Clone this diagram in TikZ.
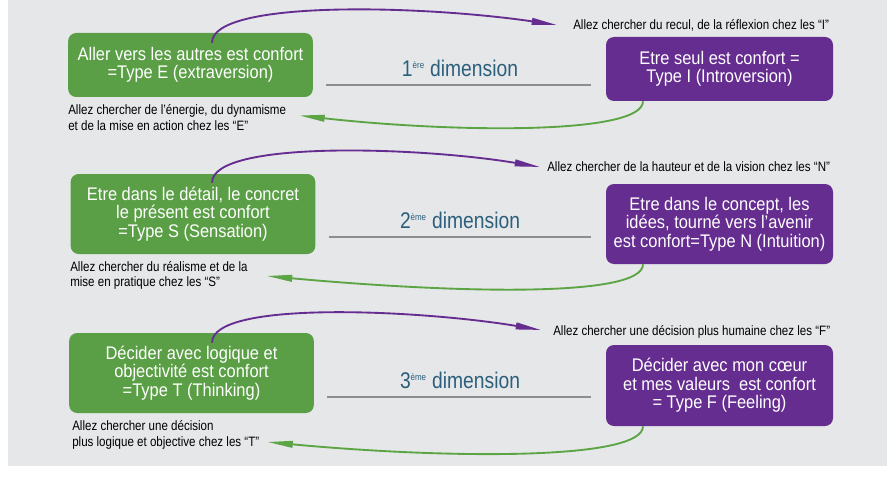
\documentclass[tikz,border=0pt]{standalone}
\usepackage{fontspec}
\usepackage{tikz}
\usetikzlibrary{arrows.meta,calc}
\newfontfamily\condfont{Liberation Sans}[FakeStretch=0.85]
\newfontfamily\boxfont{Liberation Sans}[FakeStretch=0.9]
\definecolor{cbg}{HTML}{E6E7E9}
\definecolor{cgreen}{HTML}{5A9F46}
\definecolor{cpurple}{HTML}{662D91}
\definecolor{carrg}{HTML}{5CA544}
\definecolor{cdim}{HTML}{2C5F7C}
\definecolor{cline}{HTML}{8E8E8E}
\tikzset{
  gbox/.style={rectangle, rounded corners=6pt, fill=cgreen, text=white,
               align=center, inner sep=2pt, minimum width=183.5pt,
               font=\boxfont\fontsize{13.7}{13.8}\selectfont},
  pbox/.style={gbox, fill=cpurple, minimum width=170.25pt},
  note/.style={anchor=west, inner sep=0pt, align=left, text=black,
               font=\condfont\fontsize{10.2}{11.6}\selectfont},
  dimlbl/.style={anchor=south, inner xsep=0pt, inner ysep=6pt, text=cdim,
                 font=\condfont\fontsize{17}{18}\selectfont},
  dimline/.style={draw=cline, line width=1.1pt,
                  shorten <=9.75pt, shorten >=11.25pt},
  parr/.style={-{Triangle[length=19pt,width=5pt]}, draw=cpurple, line width=1.4pt},
  garr/.style={-{Triangle[length=19pt,width=5pt]}, draw=carrg, line width=1.4pt}
}

\begin{document}
\begin{tikzpicture}[x=0.75pt, y=-0.75pt]

\fill[cbg] (8,0) rectangle (887,466);
\useasboundingbox (0,0) rectangle (887,481);

% 1ere dimension : E / I
\node[gbox, minimum height=48pt] (gE) at (190.5,65)
 {Aller vers les autres est confort\\=Type E (extraversion)};
\node[pbox, minimum height=48pt] (pI) at (719.5,69)
 {Etre seul est confort =\\Type I (Introversion)};
\node[dimlbl] (dim1) at (460,85) {1\textsuperscript{\scriptsize ère} dimension};
\node[note] (nI) at (573,25)
 {Allez chercher du recul, de la réflexion chez les “I”};
\node[note] (nE) at (68,117.5)
 {Allez chercher de l’énergie, du dynamisme\\et de la mise en action chez les “E”};

\draw[dimline] (gE.east |- dim1.south) -- (pI.west |- dim1.south);
\draw[parr] ($(gE.north)+(21.5,10)$) .. controls +(0,-43) and +(-137,-20) .. ($(nI.west)+(-16,0)$);
\draw[garr] (pI.south -| 643,0) .. controls +(0,34) and +(152,17) .. ($(nE.east)+(13,-2)$);

% 2eme dimension : S / N
\node[gbox, minimum height=60pt] (gS) at (193,214)
 {Etre dans le détail, le concret\\le présent est confort\\=Type S (Sensation)};
\node[pbox, minimum height=60pt] (pN) at (719.5,224)
 {Etre dans le concept, les\\idées, tourné vers l’avenir\\est confort=Type N (Intuition)};
\node[dimlbl] (dim2) at (460,237) {2\textsuperscript{\scriptsize ème} dimension};
\node[note] (nN) at (547,167)
 {Allez chercher de la hauteur et de la vision chez les “N”};
\node[note] (nS) at (70,275.5)
 {Allez chercher du réalisme et de la\\mise en pratique chez les “S”};

\draw[dimline] (gS.east |- dim2.south) -- (pN.west |- dim2.south);
\draw[parr] ($(gS.north)+(19,9)$) .. controls +(0,-43) and +(-120,-20) .. ($(nN.west)+(-7,0)$);
\draw[garr] (pN.south -| 643,0) .. controls +(0,34) and +(186,17) .. ($(nS.east)+(19,0.5)$);

% 3eme dimension : T / F
\node[gbox, minimum height=60pt] (gT) at (191.5,373)
 {Décider avec logique et\\objectivité est confort\\=Type T (Thinking)};
\node[pbox, minimum height=60.75pt] (pF) at (719.5,385.5)
 {Décider avec mon cœur\\et mes valeurs\ \ est confort\\= Type F (Feeling)};
\node[dimlbl] (dim3) at (460,397) {3\textsuperscript{\scriptsize ème} dimension};
\node[note] (nF) at (553,332)
 {Allez chercher une décision plus humaine chez les “F”};
\node[note] (nT) at (72,435)
 {Allez chercher une décision\\plus logique et objective chez les “T”};

\draw[dimline] (gT.east |- dim3.south) -- (pF.west |- dim3.south);
\draw[parr] ($(gT.north)+(20.5,10)$) .. controls +(0,-43) and +(-121,-20) .. ($(nF.west)+(-12,-2)$);
\draw[garr] (pF.south -| 643,0) .. controls +(0,34) and +(182,17) .. ($(nT.east)+(8,7)$);

\end{tikzpicture}
\end{document}
